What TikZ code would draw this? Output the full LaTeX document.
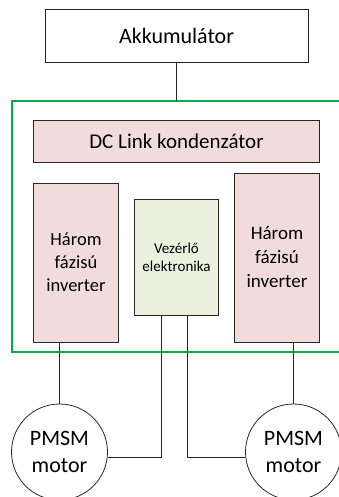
\documentclass[tikz,border=0pt]{standalone}
\usepackage{fontspec}
\setmainfont{Carlito}
\usetikzlibrary{positioning}

\definecolor{rozsa}{HTML}{F2DCDB}
\definecolor{halvanyzold}{HTML}{EBF1DE}
\definecolor{keretzold}{HTML}{00B050}

\tikzset{
  blokk/.style={draw=black!85, line width=0.8pt, inner sep=0pt, align=center},
  motor/.style={circle, draw=black!85, line width=0.8pt, minimum size=96pt, inner sep=0pt,
    align=center, font=\fontsize{22}{27}\selectfont},
  vezetek/.style={draw=black!85, line width=0.8pt}
}

\begin{document}
\begin{tikzpicture}[x=1pt,y=-1pt,node distance=2cm,on grid]
  \useasboundingbox (0,0) rectangle (339,497);

  % green frame around the power electronics
  \coordinate (keret_nw) at (12,101);
  \coordinate (keret_se) at (352,352);
  \draw[keretzold, line width=2.4pt] (keret_nw) rectangle (keret_se);

  \node[blokk, fill=white, minimum width=263pt, minimum height=53pt,
    font=\fontsize{22}{27}\selectfont] (akku) at (176.5,35.5) {Akkumulátor};
  \node[blokk, fill=rozsa, minimum width=286pt, minimum height=42pt,
    font=\fontsize{21}{26}\selectfont] (dc_link) [below=105.5pt of akku] {DC Link kondenzátor};

  \node[blokk, fill=rozsa, minimum width=85pt, minimum height=159pt,
    font=\fontsize{18.5}{23}\selectfont] (inv_left) [below left=121.5pt and 100.5pt of dc_link]
    {Három\\fázisú\\inverter};
  \node[blokk, fill=halvanyzold, minimum width=84pt, minimum height=116pt,
    font=\fontsize{15}{18}\selectfont] (vez_el) [below=116pt of dc_link]
    {Vezérlő\\elektronika};
  \node[blokk, fill=rozsa, minimum width=85pt, minimum height=169pt,
    font=\fontsize{19}{24}\selectfont] (inv_right) [below right=116.5pt and 100.5pt of dc_link]
    {Három\\fázisú\\inverter};

  \node[motor] (mot_left) [below left=189.5pt and 16.5pt of inv_left] {PMSM\\motor};
  \node[motor] (mot_right) [below right=194.5pt and 16.5pt of inv_right] {PMSM\\motor};

  \path[vezetek]
    (akku.south) edge (akku.south |- keret_nw)
    (mot_left.north) edge (mot_left.north |- inv_left.south)
    (mot_right.north) edge (mot_right.north |- inv_right.south)
    ([xshift=-15pt]vez_el.south) edge[to path={|- (\tikztotarget)}] (mot_left.-6)
    ([xshift=11pt]vez_el.south) edge[to path={|- (\tikztotarget)}] (mot_right.186)
    ;

\end{tikzpicture}
\end{document}
